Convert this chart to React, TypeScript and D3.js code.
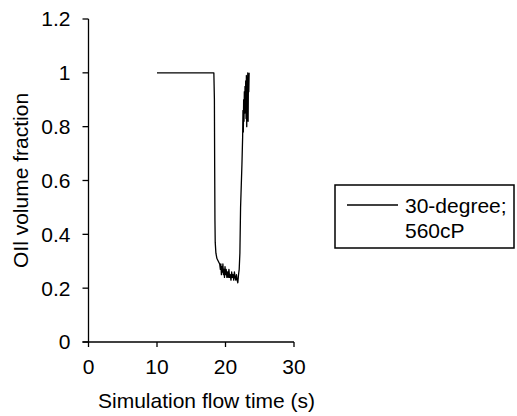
import React from "react";
import * as d3 from "d3";

const seriesName = ["30-degree;", "560cP"];
const xTicks = [0, 10, 20, 30];
const yTicks = [0, 0.2, 0.4, 0.6, 0.8, 1, 1.2];
const yTickLabels = ["0", "0.2", "0.4", "0.6", "0.8", "1", "1.2"];

const time = [
  10, 18.3, 18.38, 18.42, 18.46, 18.5, 18.6, 18.75, 18.95, 19.15,
  19.25, 19.32, 19.4, 19.47, 19.55, 19.62, 19.7, 19.78, 19.85, 19.93,
  20.0, 20.1, 20.2, 20.3, 20.4, 20.5, 20.6, 20.7, 20.8, 20.9,
  21.0, 21.1, 21.2, 21.3, 21.4, 21.5, 21.6, 21.7, 21.8, 21.9,
  22.0, 22.1, 22.2, 22.3, 22.4, 22.5, 22.55, 22.6, 22.65, 22.7,
  22.75, 22.8, 22.85, 22.9, 22.95, 23.0, 23.05, 23.1, 23.15, 23.2,
  23.25, 23.3, 23.35, 23.4, 23.45,
];
const oilFraction = [
  1.0, 1.0, 0.9, 0.65, 0.45, 0.37, 0.33, 0.31, 0.3, 0.29,
  0.27, 0.29, 0.25, 0.28, 0.26, 0.29, 0.25, 0.27, 0.24, 0.28,
  0.25, 0.27, 0.24, 0.26, 0.24, 0.27, 0.24, 0.25, 0.23, 0.26,
  0.24, 0.25, 0.23, 0.26, 0.24, 0.23, 0.25, 0.23, 0.22, 0.25,
  0.27, 0.33, 0.5, 0.58, 0.66, 0.76, 0.86, 0.78, 0.9, 0.82,
  0.93, 0.85, 0.95, 0.88, 0.97, 0.83, 0.99, 0.8, 0.96, 0.85,
  1.0, 0.82, 0.98, 0.93, 1.0,
];

export default function App() {
  const W = 517;
  const H = 416;
  const x = d3.scaleLinear().domain([0, 30]).range([88.5, 294]);
  const y = d3.scaleLinear().domain([0, 1.2]).range([342, 19]);
  const pts: [number, number][] = time.map((t, i) => [t, oilFraction[i]]);
  const line = d3
    .line<[number, number]>()
    .x((d) => x(d[0]))
    .y((d) => y(d[1]));
  const font = "'Liberation Sans', Arial, sans-serif";
  const fs = 21;
  return (
    <svg
      width={W}
      height={H}
      style={{ position: "absolute", left: 0, top: 0, background: "#fff" }}
      fontFamily={font}
    >
      <rect x={0} y={0} width={W} height={H} fill="#fff" />
      {/* y axis */}
      <line x1={x(0)} x2={x(0)} y1={y(1.2)} y2={y(0)} stroke="#000" strokeWidth={1.3} />
      {yTicks.map((v, i) => (
        <g key={"y" + i}>
          <line x1={x(0) - 6} x2={x(0)} y1={y(v)} y2={y(v)} stroke="#000" strokeWidth={1.3} />
          <text x={x(0) - 18} y={y(v)} dy="0.35em" textAnchor="end" fontSize={fs} fill="#000">
            {yTickLabels[i]}
          </text>
        </g>
      ))}
      {/* x axis */}
      <line x1={x(0) - 6} x2={x(30)} y1={y(0)} y2={y(0)} stroke="#000" strokeWidth={1.3} />
      {xTicks.map((v) => (
        <g key={"x" + v}>
          <line x1={x(v)} x2={x(v)} y1={y(0)} y2={y(0) + 5} stroke="#000" strokeWidth={1.3} />
          <text x={x(v)} y={y(0) + 32} textAnchor="middle" fontSize={fs} fill="#000">
            {v}
          </text>
        </g>
      ))}
      <text x={98} y={408} textAnchor="start" fontSize={fs} fill="#000">
        Simulation flow time (s)
      </text>
      <text
        transform={`translate(28,268) rotate(-90)`}
        textAnchor="start"
        fontSize={fs}
        fill="#000"
      >
        OIl volume fraction
      </text>
      {/* data */}
      <path d={line(pts) ?? ""} fill="none" stroke="#000" strokeWidth={1.3} strokeLinejoin="round" />
      {/* legend */}
      <rect x={335} y={185} width={179} height={63} fill="#fff" stroke="#000" strokeWidth={1.5} />
      <line x1={347} x2={398} y1={205} y2={205} stroke="#000" strokeWidth={1.3} />
      <text x={405} y={213} fontSize={fs} fill="#000">{seriesName[0]}</text>
      <text x={405} y={238} fontSize={fs} fill="#000">{seriesName[1]}</text>
    </svg>
  );
}
